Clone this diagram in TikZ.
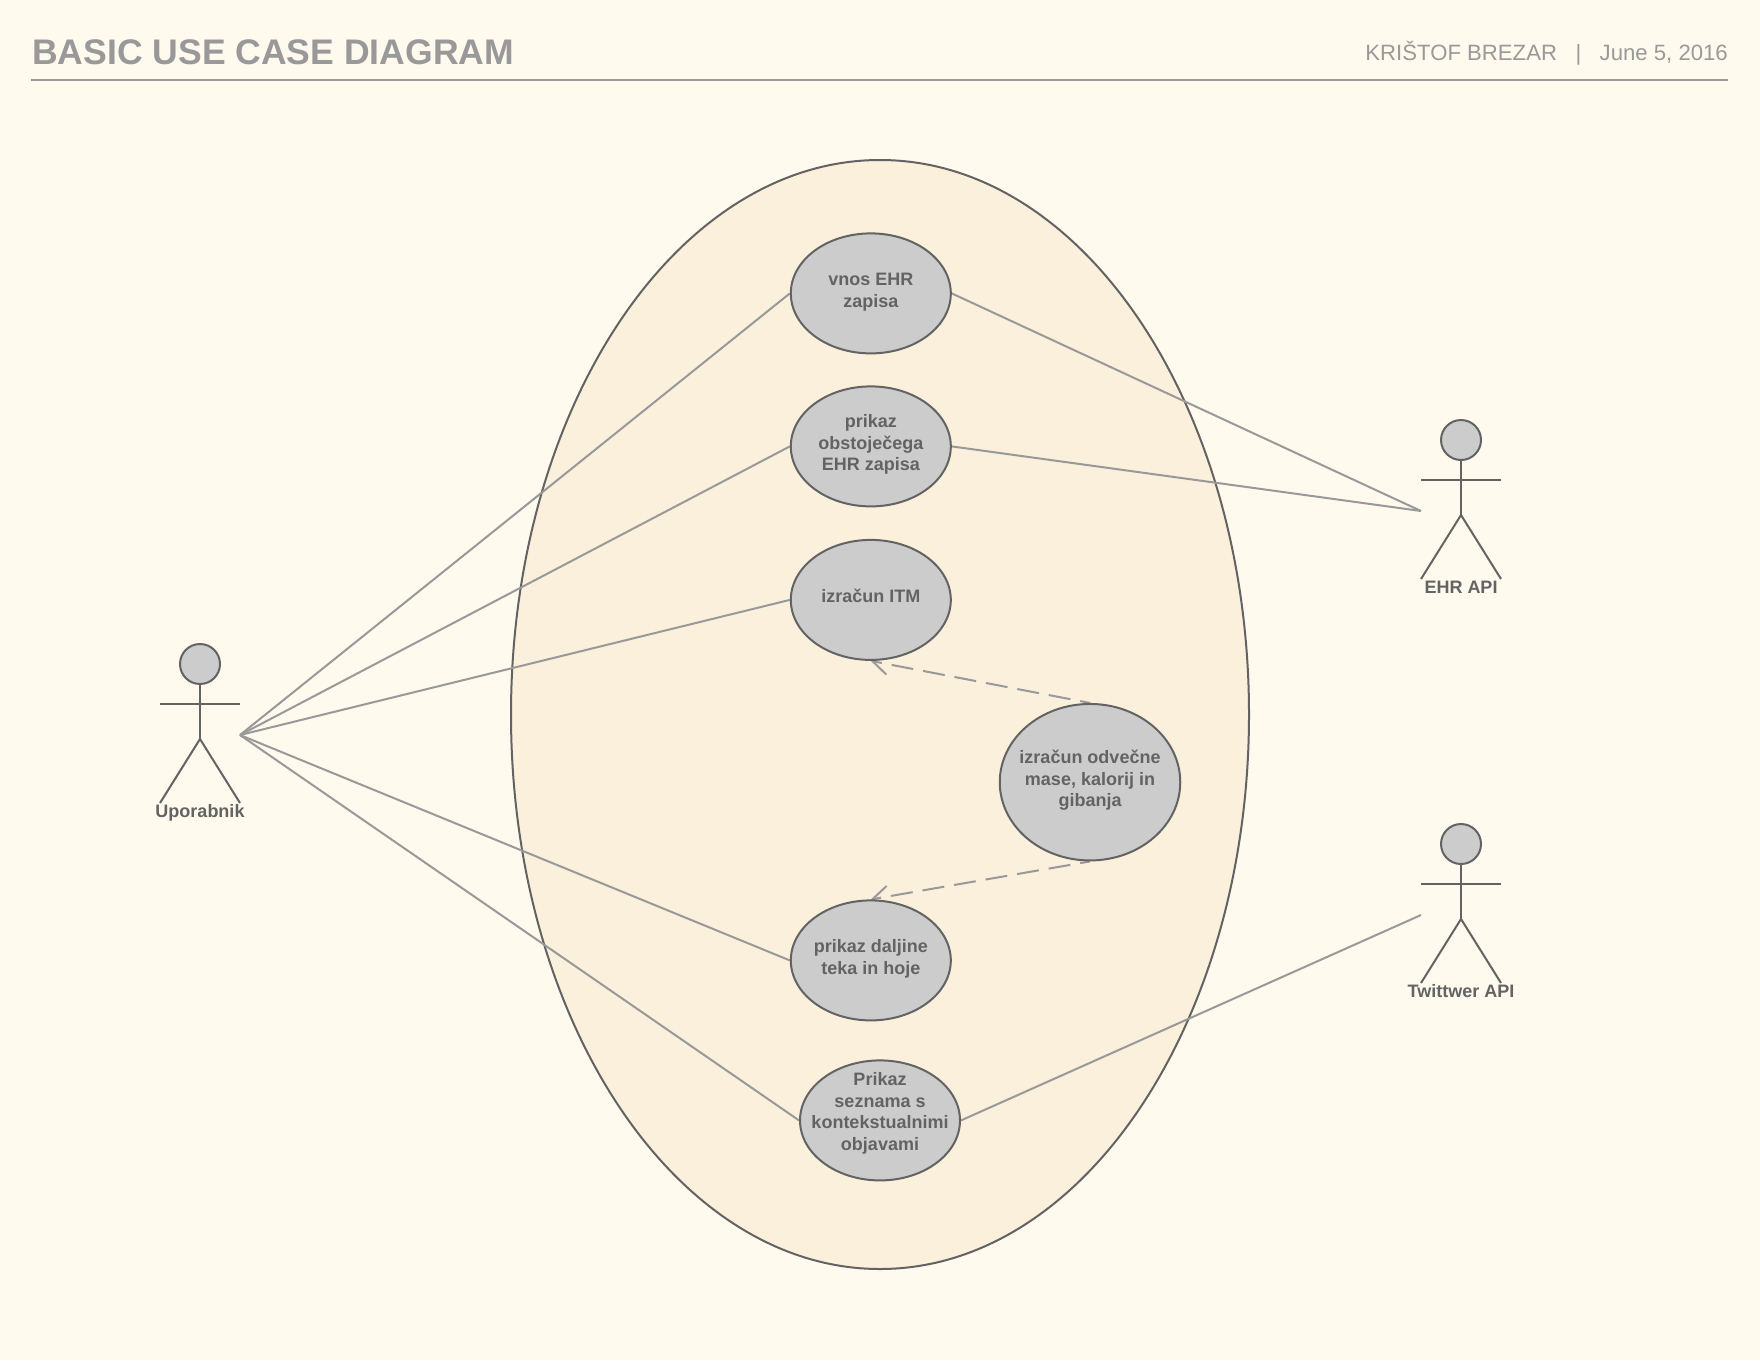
\documentclass[tikz,border=0pt]{standalone}
\usepackage{fontspec}
\setmainfont{Liberation Sans}
\usetikzlibrary{shapes.geometric,arrows.meta}
\definecolor{pagebg}{HTML}{FFF9EE}
\definecolor{bigfill}{HTML}{FAF0DC}
\definecolor{casefill}{HTML}{CCCCCC}
\definecolor{darkline}{HTML}{636363}
\definecolor{lightline}{HTML}{999999}
\pgfdeclarelayer{back}
\pgfdeclarelayer{conn}
\pgfsetlayers{back,conn,main}
\tikzset{
  usecase/.style={ellipse,draw=darkline,fill=casefill,line width=2pt,inner sep=0pt,
    minimum width=160pt,minimum height=120pt,text=darkline,
    font=\fontsize{18}{21.5}\selectfont\bfseries},
  bigcase/.style={ellipse,draw=darkline,fill=bigfill,line width=2pt,inner sep=0pt,
    minimum width=738pt,minimum height=1109pt},
  head/.style={circle,draw=darkline,fill=casefill,line width=2pt,inner sep=0pt,minimum size=40pt},
  limb/.style={draw=darkline,line width=2pt},
  actorlabel/.style={text=darkline,inner sep=0pt,anchor=base,font=\fontsize{18}{21.5}\selectfont\bfseries},
  assoc/.style={draw=lightline,line width=2pt},
  dep/.style={draw=lightline,line width=2pt,dash pattern=on 22pt off 10pt,dash phase=12pt,
    -{Straight Barb[length=16pt,width=21pt,line width=2pt]}},
  titletext/.style={text=lightline,inner sep=0pt,font=\fontsize{35.55}{40}\selectfont\bfseries},
  metatext/.style={text=lightline,inner sep=0pt,font=\fontsize{22.15}{26}\selectfont},
  rule/.style={draw=lightline,line width=2pt}
}
% lines of a use case, raised by #1, taking no room in the ellipse
\newcommand{\casetext}[2]{\makebox[0pt]{\raisebox{#1}[0pt][0pt]{\begin{tabular}{@{}c@{}}#2\end{tabular}}}}
% name, x of the axis, y of the head centre, label
\newcommand{\stickactor}[4]{
  \node[head] (#1) at (#2,#3) {};
  \coordinate (#1-hip) at (#2,#3+75);
  \coordinate (#1-al) at (#2-40,#3+40);
  \coordinate (#1-ar) at (#2+40,#3+40);
  \coordinate (#1-fl) at (#2-40,#3+139);
  \coordinate (#1-fr) at (#2+40,#3+139);
  \coordinate (#1-hl) at (#2-40,#3+71);
  \coordinate (#1-hr) at (#2+40,#3+71);
  \draw[limb] (#1) -- (#1-hip);
  \draw[limb] (#1-al) -- (#1-ar);
  \draw[limb] (#1-fl) -- (#1-hip) -- (#1-fr);
  \node[actorlabel] (#1-label) at (#2,#3+153.5) {#4};
}
\begin{document}
\begin{tikzpicture}[x=1pt,y=-1pt]
\useasboundingbox (0,0) rectangle (1760,1360);
\begin{pgfonlayer}{back}
\fill[pagebg] (0,0) rectangle (1760,1360);
\node[bigcase] (system) at (880,714.5) {};
\end{pgfonlayer}
\node[titletext,anchor=base west] (title) at (32,64) {BASIC USE CASE DIAGRAM};
\node[metatext,anchor=base east] (meta) at (1728,60) {KRIŠTOF BREZAR\ \ \ |\ \ \ June 5, 2016};
\coordinate (ruleL) at (31,80);
\coordinate (ruleR) at (1728,80);
\draw[rule] (ruleL) -- (ruleR);

\node[usecase] (vnos) at (870.8,293.4) {\casetext{-3pt}{vnos EHR\\zapisa}};
\node[usecase] (prikaz) at (870.8,446.4) {\casetext{-3pt}{prikaz\\obstoječega\\EHR zapisa}};
\node[usecase] (itm) at (870.8,599.9) {\casetext{-3pt}{izračun ITM}};
\node[usecase,minimum width=180.5pt,minimum height=156.5pt] (odvecne) at (1090,782.2) {\casetext{-3pt}{izračun odvečne\\mase, kalorij in\\gibanja}};
\node[usecase] (daljine) at (870.8,960.4) {\casetext{-3pt}{prikaz daljine\\teka in hoje}};
\node[usecase] (seznam) at (880,1120.4) {\casetext{2.6pt}{Prikaz\\seznama s\\kontekstualnimi\\objavami}};

\stickactor{upo}{200}{664}{Uporabnik}
\stickactor{ehr}{1461}{440}{EHR API}
\stickactor{twi}{1461}{844}{Twittwer API}

\begin{pgfonlayer}{conn}
\draw[assoc] (upo-hr) -- (vnos.west);
\draw[assoc] (upo-hr) -- (prikaz.west);
\draw[assoc] (upo-hr) -- (itm.west);
\draw[assoc] (upo-hr) -- (daljine.west);
\draw[assoc] (upo-hr) -- (seznam.west);
\draw[assoc] (vnos.east) -- (ehr-hl);
\draw[assoc] (prikaz.east) -- (ehr-hl);
\draw[assoc] (seznam.east) -- (twi-hl);
\draw[dep] (odvecne.north) -- (itm.south);
\draw[dep] (odvecne.south) -- (daljine.north);
\end{pgfonlayer}
\end{tikzpicture}
\end{document}
